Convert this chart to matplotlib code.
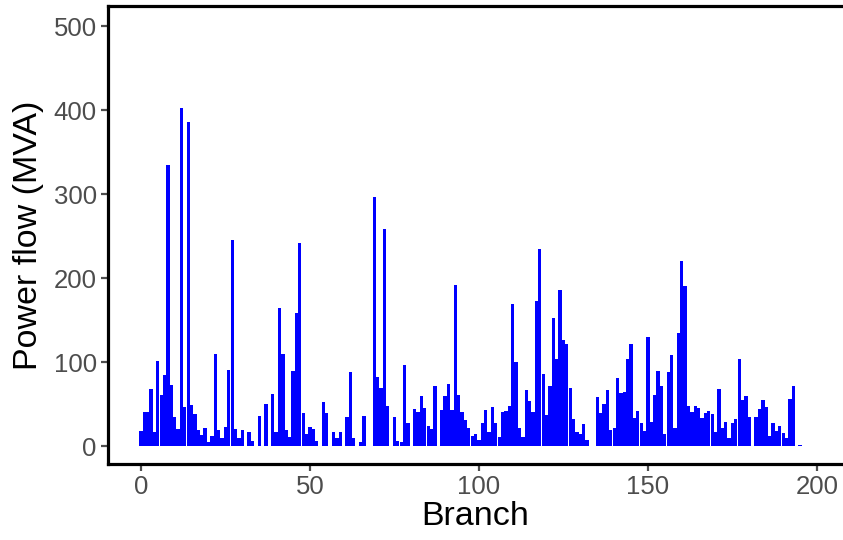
import numpy as np
import matplotlib
matplotlib.use("Agg")
import matplotlib.pyplot as plt

# power flow per branch (MVA)
flow = [
    18, 41, 40, 68, 17, 101, 61, 85, 335, 73,
    34, 20, 403, 47, 386, 49, 38, 19, 13, 21,
    5, 12, 110, 19, 9, 23, 90, 245, 20, 9,
    19, 0, 17, 6, 0, 36, 0, 50, 0, 62,
    17, 164, 109, 19, 11, 89, 159, 242, 39, 14,
    23, 20, 6, 0, 52, 39, 0, 17, 10, 17,
    0, 34, 88, 9, 0, 5, 36, 0, 0, 296,
    82, 69, 258, 48, 0, 35, 6, 5, 97, 28,
    0, 44, 40, 60, 45, 24, 20, 71, 0, 43,
    59, 74, 43, 192, 61, 40, 31, 22, 12, 14,
    7, 27, 43, 17, 47, 27, 11, 40, 42, 48,
    169, 100, 21, 11, 67, 54, 41, 173, 235, 86,
    37, 71, 153, 104, 186, 126, 122, 69, 32, 17,
    14, 26, 7, 0, 0, 58, 39, 50, 67, 19,
    21, 81, 63, 64, 104, 122, 33, 42, 28, 18,
    130, 29, 61, 89, 71, 14, 88, 108, 21, 135,
    220, 191, 48, 40, 48, 45, 33, 39, 42, 38,
    17, 68, 22, 29, 10, 27, 32, 104, 55, 60,
    35, 0, 35, 44, 55, 46, 12, 27, 18, 24,
    16, 9, 56, 71, 0, 1,
]
branch = np.arange(len(flow))

plt.rcParams['font.family'] = ['Liberation Sans', 'DejaVu Sans']

fig = plt.figure(figsize=(8.43, 5.4), dpi=100)
ax = fig.add_axes([0.128, 0.1407, 0.872, 0.848])

ax.bar(branch, flow, width=0.97, color="#0000FF", linewidth=0)

ax.set_xlim(-9.76, 207.7)
ax.set_ylim(-21.4, 523.8)
ax.set_xticks([0, 50, 100, 150, 200])
ax.set_yticks([0, 100, 200, 300, 400, 500])

for side in ["left", "bottom", "top"]:
    ax.spines[side].set_linewidth(2.3)
    ax.spines[side].set_color("black")
ax.spines["right"].set_visible(False)

ax.tick_params(axis="both", colors="#4D4D4D", labelsize=18.5,
               length=5, width=1.6, pad=3)
ax.set_xlabel("Branch", fontsize=24.5, color="black", labelpad=1)
ax.set_ylabel("Power flow (MVA)", fontsize=24.5, color="black", labelpad=7)

fig.savefig("out.png", dpi=100)
